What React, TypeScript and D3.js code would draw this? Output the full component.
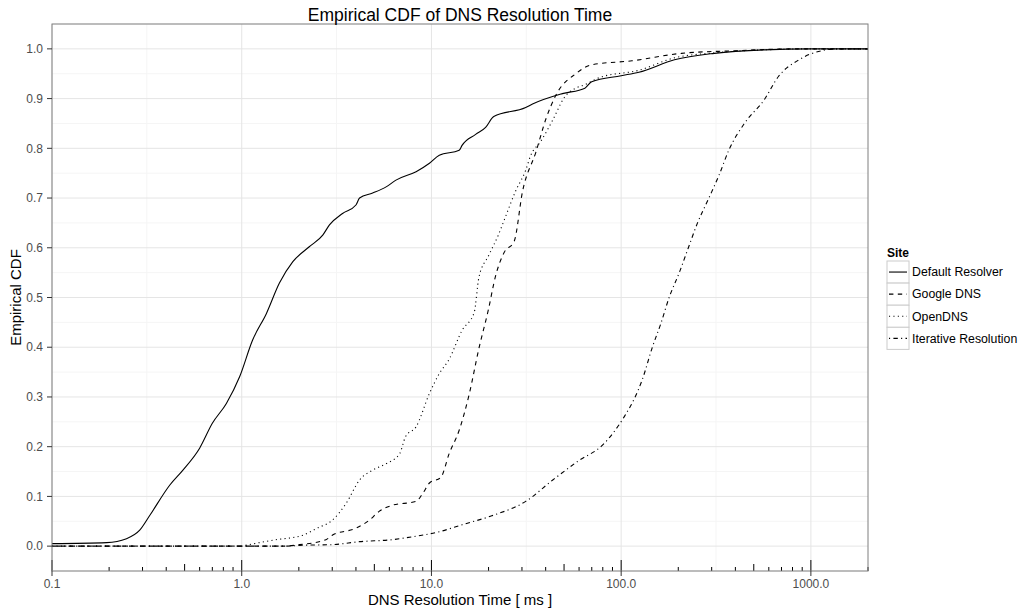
import React from "react";
import * as d3 from "d3";

const seriesNames = ["Default Resolver", "Google DNS", "OpenDNS", "Iterative Resolution"];

const defaultX = [0.1, 0.194, 0.247, 0.29, 0.328, 0.418, 0.49, 0.6, 0.7, 0.83, 0.976, 1.14, 1.35, 1.58, 1.86, 2.27, 2.68, 2.9, 3.4, 4.0, 4.18, 4.9, 5.8, 6.5, 8.3, 9.76, 11.0, 14.0, 14.5, 17.1, 19.3, 21.3, 31.4, 34.1, 49, 64.4, 69.9, 100, 124, 191, 310, 566, 1000, 2000];
const defaultY = [0.005, 0.007, 0.015, 0.032, 0.062, 0.123, 0.153, 0.197, 0.247, 0.287, 0.341, 0.414, 0.468, 0.529, 0.572, 0.602, 0.626, 0.646, 0.669, 0.686, 0.7, 0.71, 0.723, 0.736, 0.753, 0.77, 0.786, 0.796, 0.806, 0.828, 0.842, 0.864, 0.882, 0.889, 0.91, 0.921, 0.934, 0.946, 0.953, 0.978, 0.991, 0.998, 1.0, 1.0];

const googleX = [0.1, 1.65, 2.02, 2.78, 3.0, 4.0, 4.7, 5.3, 6.2, 8.3, 9.0, 9.76, 11.2, 12.4, 14.0, 15.8, 17.8, 20.0, 21.7, 24.2, 27.3, 30.2, 35.5, 40.2, 45.3, 57.6, 70, 114, 208, 385, 850, 2000];
const googleY = [0, 0, 0.003, 0.013, 0.022, 0.036, 0.052, 0.07, 0.082, 0.09, 0.106, 0.127, 0.138, 0.186, 0.233, 0.305, 0.398, 0.477, 0.541, 0.591, 0.613, 0.713, 0.792, 0.86, 0.907, 0.95, 0.968, 0.976, 0.991, 0.996, 1.0, 1.0];

const openX = [0.1, 1.0, 1.06, 1.46, 2.1, 2.49, 3.0, 3.55, 4.18, 4.9, 5.79, 6.8, 7.3, 8.3, 9.76, 11, 12.4, 14.5, 16.8, 17.8, 20.0, 22.6, 24.6, 27.7, 31.4, 33.3, 37.7, 43.6, 50.3, 57.6, 64.4, 76.5, 124, 191, 310, 566, 1000, 2000];
const openY = [0, 0, 0.002, 0.012, 0.022, 0.036, 0.052, 0.086, 0.133, 0.153, 0.166, 0.186, 0.22, 0.24, 0.307, 0.347, 0.376, 0.434, 0.47, 0.541, 0.584, 0.627, 0.663, 0.713, 0.756, 0.785, 0.814, 0.857, 0.903, 0.921, 0.928, 0.942, 0.957, 0.982, 0.992, 0.998, 1.0, 1.0];

const iterX = [0.1, 1.65, 2.2, 3.0, 4.18, 6.2, 8.0, 11, 14.5, 20.8, 31.4, 43.6, 59.8, 79.7, 103.7, 118.5, 129, 146, 162, 179, 202, 226, 252, 290, 328, 370, 450, 566, 676, 865, 1000, 1400, 2000];
const iterY = [0, 0, 0.002, 0.003, 0.009, 0.013, 0.019, 0.029, 0.043, 0.061, 0.09, 0.133, 0.172, 0.203, 0.26, 0.3, 0.334, 0.4, 0.448, 0.5, 0.549, 0.6, 0.649, 0.7, 0.746, 0.797, 0.852, 0.897, 0.945, 0.978, 0.99, 1.0, 1.0];

const xTickValues = [0.1, 1, 10, 100, 1000];
const xTickLabels = ["0.1", "1.0", "10.0", "100.0", "1000.0"];
const yTickValues = [0, 0.1, 0.2, 0.3, 0.4, 0.5, 0.6, 0.7, 0.8, 0.9, 1.0];

const W = 1025, H = 610;
const L = 52, R = 868, T = 24, B = 571;

const dashes = ["none", "4.4,4.4", "1.1,3.3", "1.1,3.3,4.4,3.3"];

export default function App() {
  const x = d3.scaleLog().domain([0.1, 2000]).range([L, R]);
  const y = d3.scaleLinear().domain([-0.05, 1.05]).range([B, T]);
  const series = [
    defaultX.map((v, i) => [v, defaultY[i]]),
    googleX.map((v, i) => [v, googleY[i]]),
    openX.map((v, i) => [v, openY[i]]),
    iterX.map((v, i) => [v, iterY[i]]),
  ];
  const line = d3
    .line<number[]>()
    .x((d) => x(d[0]))
    .y((d) => y(d[1]))
    .curve(d3.curveMonotoneX);

  const yMinor = d3.range(-0.05, 1.06, 0.1).map((v) => +v.toFixed(2));
  const xMinor = [0.1, 1, 10, 100, 1000].map((v) => v * Math.sqrt(10)).filter((v) => v < 2000);

  const logTicks: { v: number; len: number }[] = [];
  for (let e = -1; e <= 3; e++) {
    for (let k = 1; k <= 9; k++) {
      const v = k * Math.pow(10, e);
      if (v > 2000) continue;
      logTicks.push({ v, len: k === 1 ? 11 : k === 5 ? 7 : 4 });
    }
  }

  const font = "'Liberation Sans', Arial, sans-serif";
  const legendTop = 261;
  const keyH = 22.1;

  return (
    <svg width={W} height={H} style={{ position: "absolute", left: 0, top: 0 }} fontFamily={font}>
      <rect width={W} height={H} fill="#fff" />
      {yMinor.map((v) => (
        <line key={"ym" + v} x1={L} x2={R} y1={y(v)} y2={y(v)} stroke="#f5f5f5" strokeWidth={1} />
      ))}
      {xMinor.map((v) => (
        <line key={"xm" + v} x1={x(v)} x2={x(v)} y1={T} y2={B} stroke="#f5f5f5" strokeWidth={1} />
      ))}
      {yTickValues.map((v) => (
        <line key={"yg" + v} x1={L} x2={R} y1={y(v)} y2={y(v)} stroke="#e5e5e5" strokeWidth={1} />
      ))}
      {xTickValues.map((v) => (
        <line key={"xg" + v} x1={x(v)} x2={x(v)} y1={T} y2={B} stroke="#e5e5e5" strokeWidth={1} />
      ))}
      {logTicks.map((t) => (
        <line key={"lt" + t.v} x1={x(t.v)} x2={x(t.v)} y1={B} y2={B - t.len} stroke="#000" strokeWidth={1} />
      ))}
      {series.map((s, i) => (
        <path key={"s" + i} d={line(s) || ""} fill="none" stroke="#000" strokeWidth={1.1} strokeDasharray={dashes[i]} />
      ))}
      <rect x={L} y={T} width={R - L} height={B - T} fill="none" stroke="#7f7f7f" strokeWidth={1} />
      {yTickValues.map((v) => (
        <g key={"yt" + v}>
          <line x1={L - 5} x2={L} y1={y(v)} y2={y(v)} stroke="#333" strokeWidth={1} />
          <text x={L - 9} y={y(v)} dy="0.35em" textAnchor="end" fontSize={12} fill="#4d4d4d">
            {v.toFixed(1)}
          </text>
        </g>
      ))}
      {xTickValues.map((v, i) => (
        <g key={"xt" + v}>
          <line x1={x(v)} x2={x(v)} y1={B} y2={B + 5} stroke="#333" strokeWidth={1} />
          <text x={x(v)} y={B + 17} textAnchor="middle" fontSize={12} fill="#4d4d4d">
            {xTickLabels[i]}
          </text>
        </g>
      ))}
      <text x={(L + R) / 2} y={20.5} textAnchor="middle" fontSize={17.5} fill="#000">
        Empirical CDF of DNS Resolution Time
      </text>
      <text x={(L + R) / 2} y={605} textAnchor="middle" fontSize={15} fill="#000">
        DNS Resolution Time [ ms ]
      </text>
      <text transform={`translate(21,${(T + B) / 2}) rotate(-90)`} textAnchor="middle" fontSize={15} fill="#000">
        Empirical CDF
      </text>
      <text x={887} y={257} fontSize={12} fontWeight="bold" fill="#000">
        Site
      </text>
      {seriesNames.map((n, i) => {
        const ky = legendTop + i * keyH;
        return (
          <g key={"lg" + i}>
            <rect x={887} y={ky} width={22} height={keyH} fill="#fff" stroke="#cccccc" strokeWidth={1} />
            <line x1={889} x2={907} y1={ky + keyH / 2} y2={ky + keyH / 2} stroke="#000" strokeWidth={1.1} strokeDasharray={dashes[i]} />
            <text x={912} y={ky + keyH / 2} dy="0.35em" fontSize={12.3} fill="#000">
              {n}
            </text>
          </g>
        );
      })}
    </svg>
  );
}
